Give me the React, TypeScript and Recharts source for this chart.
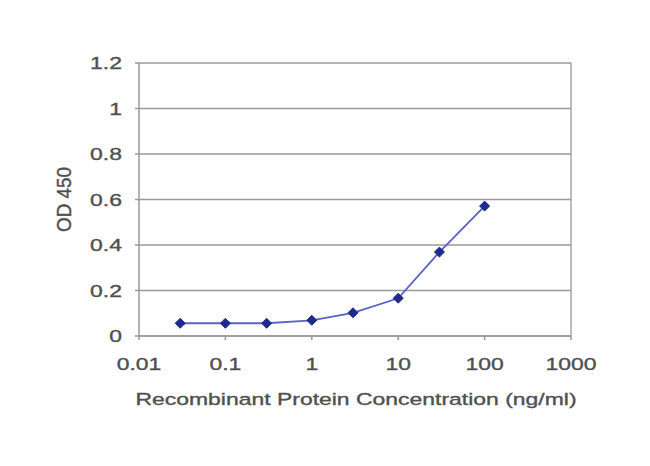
import React from 'react';
import {
  LineChart,
  Line,
  XAxis,
  YAxis,
  CartesianGrid,
  ReferenceLine,
} from 'recharts';

const concentrations = [0.03, 0.1, 0.3, 1, 3, 10, 30, 100];
const odValues = [0.056, 0.056, 0.056, 0.069, 0.102, 0.166, 0.369, 0.571];
const xTicks = [0.01, 0.1, 1, 10, 100, 1000];
const yTicks = [0, 0.2, 0.4, 0.6, 0.8, 1, 1.2];

const data = concentrations.map((c, i) => ({ conc: c, od: odValues[i] }));

const textColor = '#505050';
const gridColor = '#999999';
const font = 'Liberation Sans, Arial, sans-serif';
const stretch = 1.35;

const textStyle = {
  fill: textColor,
  stroke: textColor,
  strokeWidth: 0.35,
  fontSize: 17,
  fontFamily: font,
};

const Diamond = (props: any) => {
  const { cx, cy } = props;
  if (cx == null || cy == null) return null;
  const r = 5;
  return (
    <polygon
      points={`${cx},${cy - r} ${cx + r},${cy} ${cx},${cy + r} ${cx - r},${cy}`}
      fill="#1f2a8c"
      stroke="#1f2a8c"
    />
  );
};

const XTick = (props: any) => {
  const { x, y, payload } = props;
  return (
    <text
      transform={`translate(${x},${y + 28}) scale(${stretch},1)`}
      textAnchor="middle"
      {...textStyle}
    >
      {String(payload.value)}
    </text>
  );
};

const YTick = (props: any) => {
  const { x, y, payload } = props;
  return (
    <text
      transform={`translate(${x - 11},${y + 6}) scale(${stretch},1)`}
      textAnchor="end"
      {...textStyle}
    >
      {String(payload.value)}
    </text>
  );
};

const XTitle = (props: any) => {
  const { viewBox } = props;
  const cx = viewBox.x + viewBox.width / 2 + 1;
  return (
    <text
      transform={`translate(${cx},405) scale(${stretch},1)`}
      textAnchor="middle"
      {...textStyle}
    >
      Recombinant Protein Concentration (ng/ml)
    </text>
  );
};

const YTitle = (props: any) => {
  const { viewBox } = props;
  const cy = viewBox.y + viewBox.height / 2;
  return (
    <text
      transform={`translate(71,${cy}) rotate(-90) scale(1.11,1.2)`}
      textAnchor="middle"
      {...textStyle}
    >
      OD 450
    </text>
  );
};

const App: React.FC = () => {
  return (
    <div style={{ position: 'absolute', left: 0, top: 0, background: '#fff' }}>
      <LineChart
        width={650}
        height={466}
        data={data}
        margin={{ top: 63, right: 79, bottom: 70, left: 59 }}
        style={{ fontFamily: font }}
      >
        <CartesianGrid vertical={false} stroke={gridColor} strokeWidth={1.3} />
        <XAxis
          dataKey="conc"
          type="number"
          scale="log"
          domain={[0.01, 1000]}
          ticks={xTicks}
          allowDataOverflow
          height={60}
          stroke={gridColor}
          strokeWidth={1.5}
          tickSize={4}
          tick={<XTick />}
          label={<XTitle />}
        />
        <YAxis
          type="number"
          domain={[0, 1.2]}
          ticks={yTicks}
          width={80}
          stroke={gridColor}
          strokeWidth={1.5}
          tickSize={4}
          tick={<YTick />}
          label={<YTitle />}
        />
        <ReferenceLine x={1000} stroke={gridColor} strokeWidth={1.3} />
        <Line
          type="linear"
          dataKey="od"
          stroke="#5b62c8"
          strokeWidth={1.8}
          dot={<Diamond />}
          activeDot={false}
          isAnimationActive={false}
        />
      </LineChart>
    </div>
  );
};

export default App;
